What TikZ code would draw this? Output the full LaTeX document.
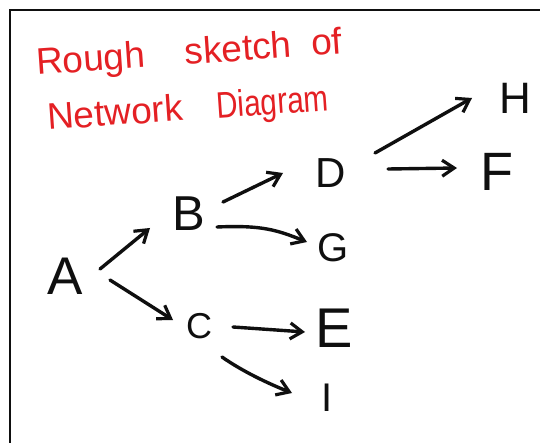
\documentclass[tikz,border=0pt]{standalone}
\usepackage{fontspec}
\setmainfont{Liberation Sans}
\usetikzlibrary{arrows.meta}
\definecolor{hred}{RGB}{228,32,36}
\definecolor{ink}{RGB}{15,15,15}
\begin{document}
\begin{tikzpicture}[x=1pt,y=-1pt,
  letter/.style={font=\fontsize{#1}{#1}\selectfont, inner sep=0pt, text=ink},
  title/.style={font=\fontsize{37}{37}\selectfont, text=hred, inner sep=0pt, anchor=base west, rotate=4},
  arr/.style={draw=ink, line width=3.4pt, line cap=round, -{Straight Barb[length=12pt,width=16pt,line width=3.2pt]}},
  frame/.style={draw=ink, line width=1.6pt}]
\useasboundingbox (0,0) rectangle (540,443);
\fill[white] (0,0) rectangle (540,443);
\coordinate (fbl) at (10,443);
\coordinate (ftl) at (10,10);
\coordinate (ftr) at (540,10);
\draw[frame] (fbl) -- (ftl) -- (ftr);
% title
\node[title] (t1) at (37,75) {Rough\hspace{40pt}sketch\hspace{20pt}of};
\node[title] (t2) at (48,130) {Network\hspace{34pt}\scalebox{0.8}[1]{Diagram}};
% letters
\node[letter=53] (A) at (65,276) {A};
\node[letter=49] (B) at (189,214) {B};
\node[letter=36] (C) at (199,326) {C};
\node[letter=42] (D) at (331,173) {D};
\node[letter=56] (E) at (334,328) {E};
\node[letter=54] (F) at (497,172) {F};
\node[letter=40] (G) at (333,248) {G};
\node[letter=44] (H) at (515,98) {H};
\node[letter=40] (I) at (327,398) {I};
% connectors
\draw[arr] ([shift={(35,-7)}]A.center) -- ([shift={(-39,14)}]B.center);
\draw[arr] ([shift={(45,4)}]A.center) -- ([shift={(-26,-6)}]C.center);
\draw[arr] ([shift={(34,-12)}]B.center) -- ([shift={(-48,0)}]D.center);
\draw[arr] ([shift={(28,13)}]B.center) .. controls +(45,-2) and +(-30,-12) .. ([shift={(-26,-6)}]G.center);
\draw[arr] ([shift={(34,1)}]C.center) -- ([shift={(-29,4)}]E.center);
\draw[arr] ([shift={(23,31)}]C.center) .. controls +(20,14) and +(-25,-10) .. ([shift={(-35,-5)}]I.center);
\draw[arr] ([shift={(44,-20)}]D.center) -- ([shift={(-43,0)}]H.center);
\draw[arr] ([shift={(57,-4)}]D.center) -- ([shift={(-40,-4)}]F.center);
\end{tikzpicture}
\end{document}
